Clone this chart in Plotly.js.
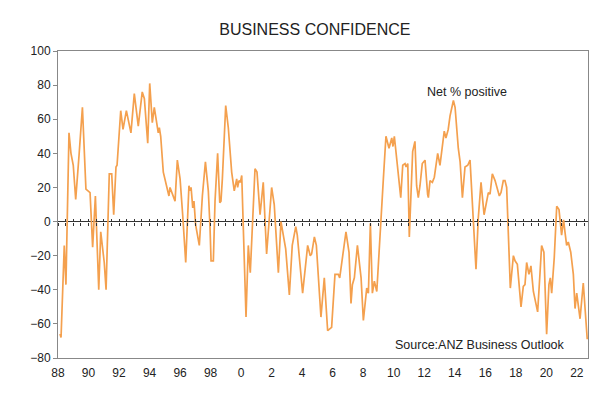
<!DOCTYPE html>
<html>
<head>
<meta charset="utf-8">
<script src="https://cdn.plot.ly/plotly-3.0.1.min.js"></script>
<style>html,body{margin:0;padding:0;background:#fff;}#chart{width:602px;height:395px;}</style>
</head>
<body>
<div id="chart"></div>
<script>
// Survey date (decimal year) and net % positive
var years = [
 1988.13,1988.20,1988.41,1988.52,1988.72,1988.85,1989.00,1989.16,1989.38,1989.60,1989.83,1989.99,1990.10,1990.27,1990.45,1990.67,1990.80,1991.03,1991.15,1991.36,1991.52,1991.65,1991.80,1991.87,
 1992.11,1992.26,1992.48,1992.78,1993.00,1993.26,1993.52,1993.66,1993.88,1994.01,1994.18,1994.31,1994.47,1994.57,1994.64,1994.73,1994.90,1995.06,1995.14,1995.27,1995.34,1995.45,1995.67,1995.82,
 1996.00,1996.17,1996.37,1996.58,1996.65,1996.72,1996.83,1996.91,1997.02,1997.26,1997.46,1997.66,1997.85,1997.96,1998.03,1998.18,1998.29,1998.46,1998.60,1998.68,1998.77,1998.99,1999.16,1999.38,1999.55,
 1999.71,1999.77,1999.86,1999.95,2000.04,2000.32,2000.47,2000.60,2000.91,2001.04,2001.24,2001.45,2001.67,2002.00,2002.17,2002.44,2002.61,2002.72,2002.92,2003.16,2003.35,2003.58,2003.68,
 2004.03,2004.36,2004.53,2004.62,2004.80,2004.93,2005.23,2005.45,2005.67,2005.93,2006.15,2006.37,2006.46,2006.76,2006.87,2007.07,2007.20,2007.29,2007.42,2007.62,2007.86,2008.01,2008.23,2008.34,
 2008.47,2008.60,2008.73,2008.89,2009.03,2009.17,2009.32,2009.49,2009.69,2009.87,2009.95,2010.04,2010.13,2010.31,2010.46,2010.59,2010.74,2010.81,2010.92,2011.02,2011.24,2011.39,2011.50,2011.61,
 2011.72,2011.87,2012.05,2012.22,2012.27,2012.38,2012.53,2012.66,2012.88,2013.03,2013.31,2013.42,2013.57,2013.69,2013.91,2014.02,2014.23,2014.35,2014.50,2014.67,2014.85,2015.00,2015.22,2015.39,
 2015.54,2015.72,2015.92,2016.03,2016.20,2016.31,2016.46,2016.64,2016.75,2016.92,2017.03,2017.18,2017.29,2017.40,2017.64,2017.84,2017.95,2018.10,2018.34,2018.49,2018.60,2018.71,2018.86,2018.99,
 2019.15,2019.43,2019.58,2019.69,2019.84,2020.02,2020.17,2020.26,2020.35,2020.52,2020.68,2020.83,2021.00,2021.13,2021.22,2021.33,2021.44,2021.60,2021.77,2021.88,2021.99,2022.21,2022.42,2022.53,2022.68
];
var netPositive = [
 -66,-68,-14,-37,52,40,33,13,39,67,19,18,17,-15,15,-40,-6,-24,-40,28,28,4,32,33,
 65,54,65,52,75,56,76,72,46,81,58,67,56,52,55,50,29,22,20,15,20,17,12,36,
 25,4,-24,21,18,20,8,12,-2,-14,15,35,18,-3,-23,-23,12,40,11,12,25,68,55,29,18,
 25,20,24,23,27,-56,-14,-30,31,29,4,23,-19,20,10,-30,0,-5,-16,-43,-14,-3,-8,
 -42,-14,-20,-19,-9,-14,-56,-33,-64,-62,-31,-31,-33,-14,-6,-18,-48,-37,-33,-14,-33,-58,-39,-42,
 -1,-42,-35,-41,-18,6,25,50,43,49,44,50,43,28,14,33,34,32,34,-9,41,47,21,14,
 21,34,36,16,14,24,23,26,40,33,53,49,54,62,71,67,43,35,14,32,33,36,-5,-28,
 2,23,4,10,17,16,28,24,21,15,17,24,24,20,-39,-20,-23,-25,-50,-38,-37,-24,-31,-26,
 -41,-53,-31,-14,-18,-66,-37,-33,-42,-21,9,7,-8,1,-6,-14,-12,-18,-31,-51,-42,-57,-36,-51,-69
];
var tickYears = [1988,1990,1992,1994,1996,1998,2000,2002,2004,2006,2008,2010,2012,2014,2016,2018,2020,2022];
var tickLabels = ['88','90','92','94','96','98','0','2','4','6','8','10','12','14','16','18','20','22'];
var yTicks = [-80,-60,-40,-20,0,20,40,60,80,100];

var xRange = [1988, 2022.73];
var yRange = [-80, 100];
var zeroPos = (0 - yRange[0]) / (yRange[1] - yRange[0]);

var font = {family: 'Liberation Sans, Arial, sans-serif', size: 12, color: '#222'};
var noteFont = {family: 'Liberation Sans, Arial, sans-serif', size: 12.5, color: '#222'};

var traces = [
  {x: years, y: netPositive, type: 'scatter', mode: 'lines',
   line: {color: '#F4A04E', width: 1.7}, hoverinfo: 'skip', showlegend: false},
  {x: [], y: [], xaxis: 'x2', type: 'scatter', mode: 'lines', showlegend: false, hoverinfo: 'skip'},
  {x: [], y: [], xaxis: 'x3', type: 'scatter', mode: 'lines', showlegend: false, hoverinfo: 'skip'}
];

var tickAxis = function (side) {
  return {overlaying: 'x', anchor: 'free', position: zeroPos, range: xRange,
    tickmode: 'linear', tick0: 1988, dtick: 0.5, ticks: side, ticklen: 3, tickwidth: 1,
    tickcolor: '#333', showticklabels: false, showgrid: false, zeroline: false, showline: false};
};

var layout = {
  width: 602, height: 395,
  margin: {l: 58, r: 14, t: 51, b: 37},
  paper_bgcolor: '#fff', plot_bgcolor: '#fff',
  font: font,
  title: {text: 'BUSINESS CONFIDENCE', font: {family: 'Liberation Sans, Arial, sans-serif', size: 16, color: '#222'},
          x: 0.523, xanchor: 'center', y: 0.925, yanchor: 'middle'},
  xaxis: {range: xRange, tickmode: 'array', tickvals: tickYears, ticktext: tickLabels,
    ticks: 'outside', ticklen: 4, tickcolor: 'rgba(0,0,0,0)', showgrid: false, zeroline: false,
    showline: true, linecolor: '#888', linewidth: 1, mirror: true, tickfont: font},
  xaxis2: tickAxis('outside'),
  xaxis3: tickAxis('inside'),
  yaxis: {range: yRange, tickmode: 'array', tickvals: yTicks, ticks: 'outside', ticklen: 4,
    tickcolor: '#888', showgrid: false, zeroline: true, zerolinecolor: '#333', zerolinewidth: 1,
    showline: true, linecolor: '#888', linewidth: 1, mirror: true, tickfont: font},
  annotations: [
    {text: 'Net % positive', xref: 'paper', yref: 'paper', x: 0.772, y: 0.865,
     xanchor: 'center', yanchor: 'middle', showarrow: false, font: noteFont},
    {text: 'Source:ANZ Business Outlook', xref: 'paper', yref: 'paper', x: 0.796, y: 0.042,
     xanchor: 'center', yanchor: 'middle', showarrow: false, font: noteFont}
  ]
};

Plotly.newPlot('chart', traces, layout, {displayModeBar: false, staticPlot: true});
</script>
</body>
</html>
